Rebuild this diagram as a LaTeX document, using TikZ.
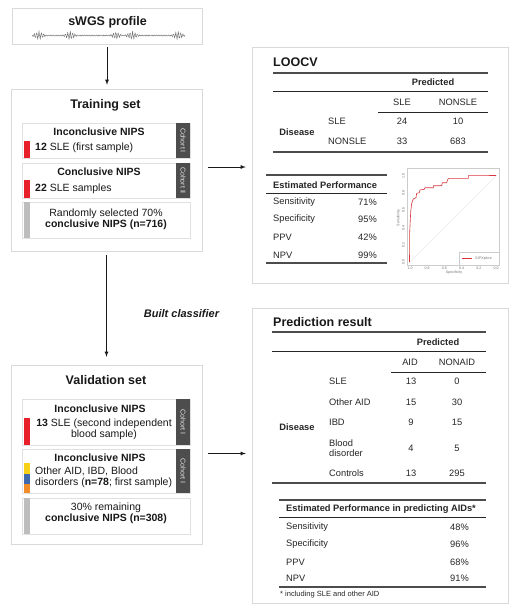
\documentclass[tikz,border=0pt]{standalone}
\usepackage{fontspec}
\setmainfont{Liberation Sans}
\usetikzlibrary{positioning, calc, shadows}
\definecolor{tabgray}{HTML}{4D4D4D}
\definecolor{barred}{HTML}{E8202A}
\definecolor{baryellow}{HTML}{F7D117}
\definecolor{barblue}{HTML}{3F6BAE}
\definecolor{barorange}{HTML}{F28C28}
\definecolor{bargray}{HTML}{BDBDBD}
\definecolor{rocred}{HTML}{D9363E}
\tikzset{
  panel/.style={draw=black!15, fill=white, inner sep=0pt,
    drop shadow={opacity=0.22, shadow xshift=0.8pt, shadow yshift=-1.2pt}},
  subpanel/.style={draw=black!12, fill=white, inner sep=0pt, minimum width=168pt,
    drop shadow={opacity=0.22, shadow xshift=0.7pt, shadow yshift=-0.9pt}},
  title/.style={font=\fontsize{12.5}{15}\selectfont\bfseries, inner sep=0pt, text=black!90},
  subhead/.style={font=\fontsize{10.5}{12}\selectfont\bfseries, inner sep=0pt, text=black!90},
  subtxt/.style={font=\fontsize{10.5}{11}\selectfont, inner sep=0pt, text=black!90},
  cell/.style={font=\fontsize{9.3}{10.5}\selectfont, inner sep=0pt, text=black!85},
  cellhead/.style={font=\fontsize{9.3}{11}\selectfont\bfseries, inner sep=0pt, text=black!85},
  cohort/.style={font=\fontsize{7}{8}\selectfont, text=white!90!black, rotate=-90, inner sep=0pt},
  tiny/.style={font=\fontsize{3.6}{4}\selectfont, text=black!55, inner sep=0pt},
  rulethick/.style={line width=1.1pt, black!70},
  rulethin/.style={line width=0.7pt, black!85},
  flow/.style={->, line width=0.8pt, black!90}
}
\begin{document}
\begin{tikzpicture}[x=1pt, y=-1pt, >=latex]
\path[use as bounding box, fill=white] (0,0) rectangle (516,608);

% left column
\node[panel, minimum width=190pt, minimum height=36pt] (swgs) at (107,26) {};
\node[title] (swgs-title) at (107.5,22) {sWGS profile};
\draw[black!55, line width=0.45pt] plot[domain=32:185, samples=700]
  (\x, {35.5 - (0.45 + 3*max(0,1-abs(\x-39)/7) + 3*max(0,1-abs(\x-70)/7)
   + 2.6*max(0,1-abs(\x-116)/6) + 3*max(0,1-abs(\x-132)/7)
   + 3*max(0,1-abs(\x-178)/7))*(sin(mod(\x,2.4)*150)+0.3*sin(mod(\x,0.9)*400))});

\node[panel, minimum width=191pt, minimum height=162pt] (train) at (106.5,170) {};
\node[title] (train-title) at (105.5,105) {Training set};

\node[subpanel, minimum height=35pt] (t1) at (106,140.5) {};
\node[subpanel, minimum height=35pt] (t2) at (106,180.5) {};
\node[subpanel, minimum height=36pt] (t3) at (106,220) {};
\fill[barred] ($(t1.south west)+(2,0)$) rectangle ++(6,-17);
\fill[barred] ($(t2.south west)+(2,0)$) rectangle ++(6,-18);
\fill[bargray] ($(t3.south west)+(2,-0.5)$) rectangle ($(t3.north west)+(8,0.5)$);
\foreach \b/\c in {t1/Cohort I, t2/Cohort II}
{
    \fill[tabgray] ($(\b.north east)+(-14,0)$) rectangle (\b.south east);
    \node[cohort] (\b-coh) at ($(\b.east)+(-7,0)$) {\c};
}
\node[subhead] (t1-head) at (99,132) {Inconclusive NIPS};
\node[subtxt, anchor=west] (t1-txt) at (35,147.5) {\textbf{12} SLE (first sample)};
\node[subhead] (t2-head) at (99,172) {Conclusive NIPS};
\node[subtxt, anchor=west] (t2-txt) at (35,188.5) {\textbf{22} SLE samples};
\node[subtxt, align=center] (t3-txt) at (106,219) {Randomly selected 70\%\\\textbf{conclusive NIPS (n=716)}};

\node[panel, minimum width=191pt, minimum height=179pt] (valid) at (106.5,454.5) {};
\node[title] (valid-title) at (106,380) {Validation set};

\node[subpanel, minimum height=46pt] (v1) at (106,422) {};
\node[subpanel, minimum height=44pt] (v2) at (106,471) {};
\node[subpanel, minimum height=36pt] (v3) at (106,516) {};
\fill[barred] ($(v1.south west)+(2,0)$) rectangle ++(6,-27);
\fill[barorange] ($(v2.south west)+(2,0)$) rectangle ++(6,-9.5);
\fill[barblue] ($(v2.south west)+(2,-9.5)$) rectangle ++(6,-10);
\fill[baryellow] ($(v2.south west)+(2,-19.5)$) rectangle ++(6,-10.5);
\fill[bargray] ($(v3.south west)+(2,-0.5)$) rectangle ($(v3.north west)+(8,0.5)$);
\foreach \b in {v1, v2}
{
    \fill[tabgray] ($(\b.north east)+(-14,0)$) rectangle (\b.south east);
    \node[cohort] (\b-coh) at ($(\b.east)+(-7,0)$) {Cohort I};
}
\node[subhead] (v1-head) at (100,409) {Inconclusive NIPS};
\node[subtxt, align=center] (v1-txt) at (104,429) {\textbf{13} SLE (second independent\\blood sample)};
\node[subhead] (v2-head) at (100,458) {Inconclusive NIPS};
\node[subtxt, align=left, anchor=west] (v2-txt) at (35,477) {Other AID, IBD, Blood\\disorders (\textbf{n=78}; first sample)};
\node[subtxt, align=center] (v3-txt) at (106,513.5) {30\% remaining\\\textbf{conclusive NIPS (n=308)}};

% right column
\node[panel, minimum width=256pt, minimum height=236pt] (loocv) at (380,165) {};
\node[title, anchor=west] (loocv-title) at (273,62) {LOOCV};
\draw[rulethick] (273,73) -- (488,73);
\node[cellhead] (loocv-pred) at (433,82) {Predicted};
\draw[rulethin] (273,91) -- (488,91);
\node[cell] (loocv-c1) at (402,102) {SLE};
\node[cell] (loocv-c2) at (458,102) {NONSLE};
\draw[rulethin] (378,112) -- (488,112);
\node[cellhead] (loocv-dis) at (297,132) {Disease};
\foreach \y/\lab/\a/\b [count=\i] in {121/SLE/24/10, 141/NONSLE/33/683}
{
    \node[cell, anchor=west] (loocv-r\i) at (328,\y) {\lab};
    \node[cell] (loocv-a\i) at (402,\y) {\a};
    \node[cell] (loocv-b\i) at (458,\y) {\b};
}
\draw[rulethick] (273,152) -- (488,152);

\draw[rulethick] (266,175) -- (387,175);
\node[cellhead, anchor=west] (loocv-perf) at (273,185) {Estimated Performance};
\draw[rulethin] (266,193) -- (387,193);
\foreach \y/\lab/\v [count=\i] in {202/Sensitivity/71\%, 219/Specificity/95\%, 237/PPV/42\%, 255/NPV/99\%}
{
    \node[cell, anchor=west] (loocv-p\i) at (273,\y) {\lab};
    \node[cell, anchor=east] (loocv-v\i) at (377,\y) {\v};
}
\draw[rulethick] (266,263) -- (387,263);

% roc curve
\draw[black!20, line width=0.4pt] (407,168) rectangle (499,265);
\draw[black!15, line width=0.3pt] (410,262) -- (496,176);
\foreach \v/\t [count=\i] in {0/0.0, 0.2/0.2, 0.4/0.4, 0.6/0.6, 0.8/0.8, 1/1.0}
{
    \node[tiny, rotate=90] (roc-y\i) at (403.5, {262-86*\v}) {\t};
    \node[tiny] (roc-x\i) at ({496-86*\v}, 268.5) {\t};
}
\node[tiny, rotate=90] (roc-ylab) at (398.5,218) {Sensitivity};
\node[tiny] (roc-xlab) at (454,272.5) {Specificity};
\draw[rocred, line width=0.6pt] (409.5,262) -- (409.7,231.7) -- (410.7,211.7) -- (411.7,203.3)
  -- (413.3,199) -- (416,197.7) -- (416.7,193.3) -- (419.3,192.7) -- (420,190)
  -- (424.3,189.3) -- (425,187.7) -- (433.3,187.7) -- (433.3,185.7) -- (441.7,185.7)
  -- (442.3,182.7) -- (446.7,182.7) -- (447.3,180.7) -- (448.3,178.3) -- (468.3,178.3)
  -- (468.3,175.7) -- (496,175.5);
\draw[black!20, fill=white, line width=0.3pt] (459,252) rectangle (499,265);
\draw[rocred, line width=0.5pt] (462,258.5) -- (472,258.5);
\node[tiny, anchor=west] (roc-leg) at (475,258.5) {GIPXplore};

\node[panel, minimum width=256pt, minimum height=295pt] (pred) at (380,455.5) {};
\node[title, anchor=west] (pred-title) at (273,322) {Prediction result};
\draw[rulethick] (272,332) -- (486,332);
\node[cellhead] (pred-pred) at (438,342) {Predicted};
\draw[rulethin] (272,351) -- (486,351);
\node[cell] (pred-c1) at (410,362) {AID};
\node[cell] (pred-c2) at (457,362) {NONAID};
\draw[rulethin] (391,372) -- (486,372);
\node[cellhead] (pred-dis) at (297,427) {Disease};
\foreach \y/\lab/\a/\b [count=\i] in {381/SLE/13/0, 402/Other AID/15/30, 422/IBD/9/15, 448/{Blood\\disorder}/4/5, 473/Controls/13/295}
{
    \node[cell, anchor=west, align=left] (pred-r\i) at (329,\y) {\lab};
    \node[cell] (pred-a\i) at (411,\y) {\a};
    \node[cell] (pred-b\i) at (457,\y) {\b};
}
\draw[rulethick] (272,483) -- (486,483);

\draw[rulethick] (279,500) -- (486,500);
\node[cellhead, anchor=west] (pred-perf) at (286,509) {Estimated Performance in predicting AIDs*};
\draw[rulethin] (279,517) -- (486,517);
\foreach \y/\lab/\v [count=\i] in {527/Sensitivity/48\%, 544/Specificity/96\%, 562/PPV/68\%, 578/NPV/91\%}
{
    \node[cell, anchor=west] (pred-p\i) at (286,\y) {\lab};
    \node[cell, anchor=east] (pred-v\i) at (469,\y) {\v};
}
\draw[rulethick] (279,587) -- (486,587);
\node[cell, anchor=west, font=\fontsize{7.5}{9}\selectfont] (pred-foot) at (280,594.5) {* including SLE and other AID};

% connectors
\draw[flow] ($(swgs.south)+(0,3)$) -- ($(swgs.south |- train.north)+(0,-4)$);
\draw[flow] ($(train.east)+(6,-3)$) -- ($(train.east -| loocv.west)+(-6,-3)$);
\draw[flow] ($(train.south)+(0,4)$) -- node[pos=0.57, right=37pt, font=\fontsize{11}{13}\selectfont\bfseries\itshape, inner sep=0pt] (built) {Built classifier} ($(valid.north)+(0,-8)$);
\draw[flow] ($(valid.east)+(6,-1)$) -- ($(valid.east -| pred.west)+(-6,-1)$);

\end{tikzpicture}
\end{document}
